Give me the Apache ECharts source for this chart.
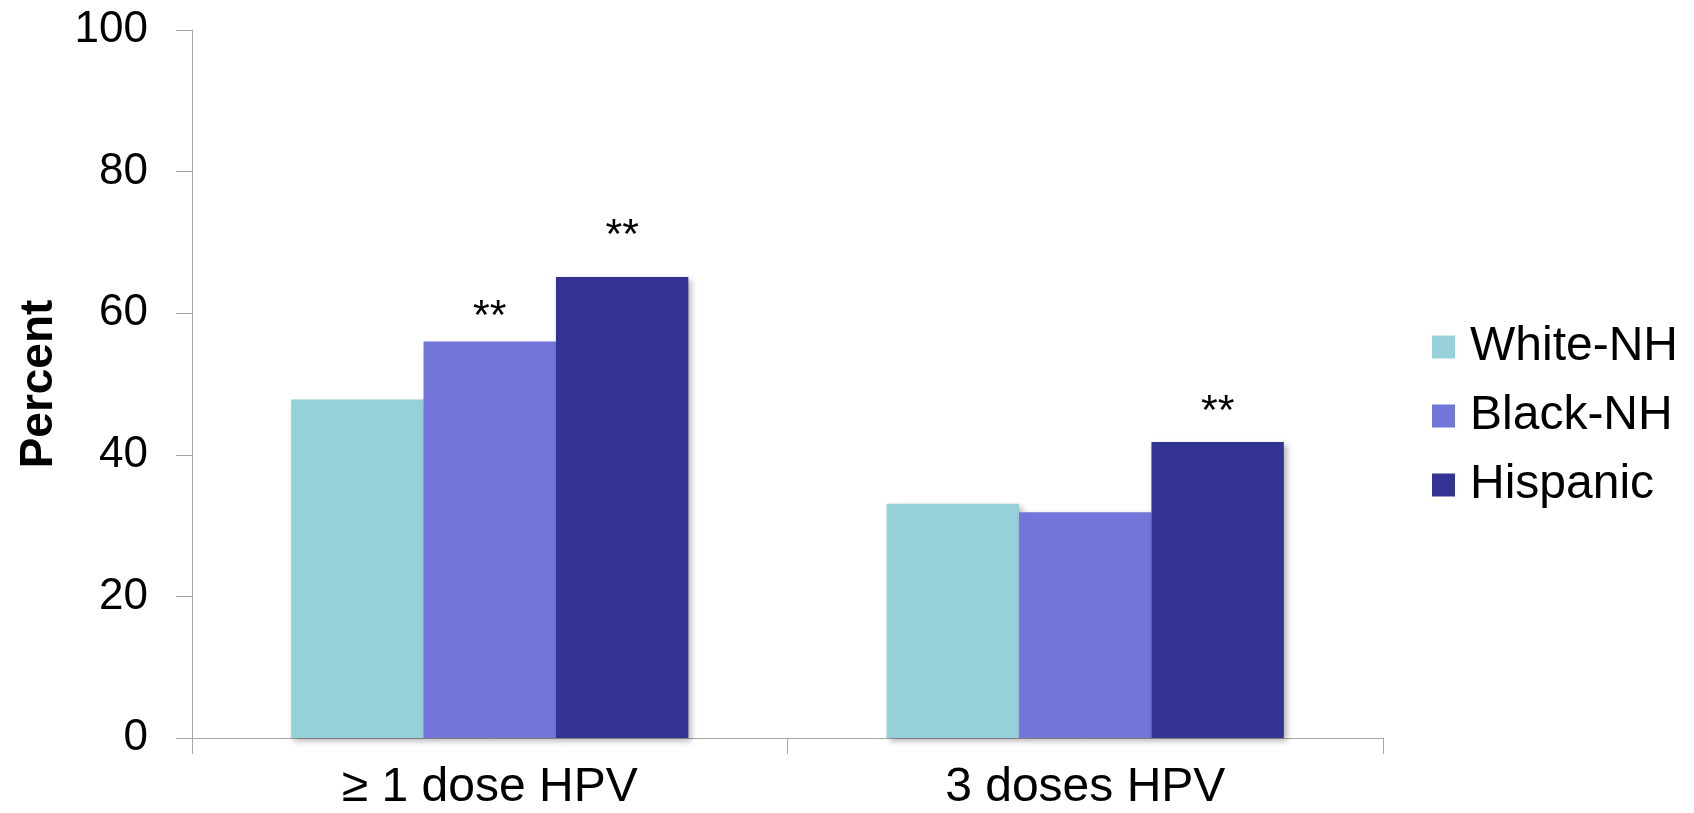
<!DOCTYPE html>
<html>
<head>
<meta charset="utf-8">
<script src="https://cdn.jsdelivr.net/npm/echarts@6/dist/echarts.min.js"></script>
<style>
html,body{margin:0;padding:0;background:#fff;}
#chart{width:1694px;height:813px;}
</style>
</head>
<body>
<div id="chart"></div>
<script>
var categories = ['\u2265 1 dose HPV', '3 doses HPV'];
var seriesNames = ['White-NH', 'Black-NH', 'Hispanic'];
var whiteNH = [47.8, 33.1];
var blackNH = [56.0, 31.9];
var hispanic = [65.1, 41.8];
var whiteMarks = ['', ''];
var blackMarks = ['**', ''];
var hispanicMarks = ['**', '**'];
var yTicks = [0, 20, 40, 60, 80, 100];

var colors = ['#96d1d9', '#7375d9', '#333393'];
var markDist = [[0, 0], [3, 0], [19, 8]];
var values = [whiteNH, blackNH, hispanic];
var marks = [whiteMarks, blackMarks, hispanicMarks];

var FONT = 'Liberation Sans, Arial, sans-serif';

var series = seriesNames.map(function (name, si) {
  return {
    name: name,
    type: 'bar',
    barGap: '0%',
    barCategoryGap: '33.3%',
    itemStyle: {
      color: colors[si],
      shadowBlur: 6,
      shadowOffsetX: 3,
      shadowOffsetY: 3,
      shadowColor: 'rgba(0,0,0,0.3)'
    },
    data: values[si].map(function (v, i) {
      return {
        value: v,
        label: {
          show: marks[si][i] !== '',
          position: 'top',
          distance: markDist[si][i],
          formatter: marks[si][i],
          fontSize: 43,
          fontFamily: FONT,
          color: '#000'
        }
      };
    })
  };
});

var chart = echarts.init(document.getElementById('chart'));
chart.setOption({
  animation: false,
  backgroundColor: '#fff',
  grid: { left: 192, right: 311, top: 30, bottom: 75, containLabel: false, outerBoundsMode: 'none' },
  legend: {
    orient: 'vertical',
    left: 1427,
    top: 318,
    itemWidth: 23,
    itemHeight: 23,
    itemGap: 21,
    icon: 'rect',
    data: seriesNames,
    textStyle: {
      fontSize: 48,
      lineHeight: 48,
      fontFamily: FONT,
      color: '#000',
      padding: [0, 0, 0, 10]
    }
  },
  xAxis: {
    type: 'category',
    data: categories,
    axisLine: { lineStyle: { color: '#a6a6a6', width: 1 } },
    axisTick: { show: true, length: 16, lineStyle: { color: '#a6a6a6' } },
    axisLabel: { fontSize: 48, fontFamily: FONT, color: '#000', margin: 26 }
  },
  yAxis: {
    type: 'value',
    min: yTicks[0],
    max: yTicks[yTicks.length - 1],
    interval: yTicks[1] - yTicks[0],
    name: 'Percent',
    nameLocation: 'middle',
    nameGap: 130,
    nameTextStyle: { fontSize: 46, fontWeight: 'bold', fontFamily: FONT, color: '#000' },
    axisLine: { show: true, lineStyle: { color: '#a6a6a6', width: 1 } },
    axisTick: { show: true, length: 16, lineStyle: { color: '#a6a6a6' } },
    splitLine: { show: false },
    axisLabel: { fontSize: 44, fontFamily: FONT, color: '#000', margin: 44 }
  },
  series: series
});
</script>
</body>
</html>
